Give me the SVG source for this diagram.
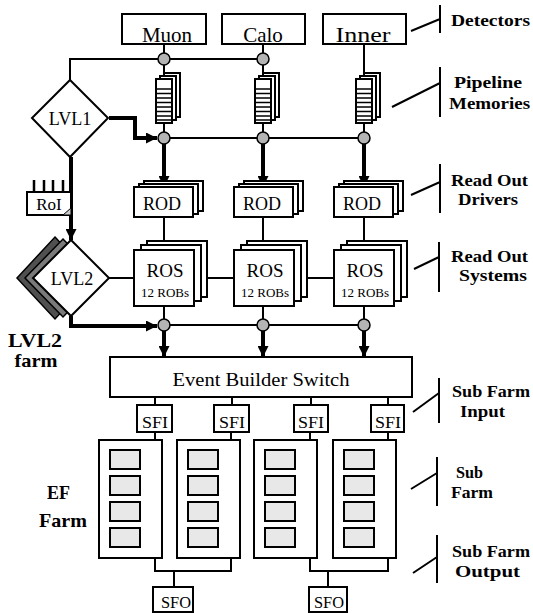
<svg xmlns="http://www.w3.org/2000/svg" xmlns:xlink="http://www.w3.org/1999/xlink" width="533" height="613" viewBox="0 0 533 613">
<style>
.box{fill:#fff;stroke:#000;stroke-width:2}
.t{font-family:"Liberation Serif","Times New Roman",serif;fill:#000}
.lbl{font-family:"Liberation Serif","Times New Roman",serif;font-weight:bold;font-size:16px;fill:#000}
.big{font-size:19px}
.thin{fill:none;stroke:#000;stroke-width:2}
.thick{fill:none;stroke:#000;stroke-width:4}
.dot{fill:#b4b4b4;stroke:#000;stroke-width:1.5}
.pc{fill:#e8e8e8;stroke:#000;stroke-width:2}
</style>
<defs>
<marker id="ah" viewBox="0 0 10 10" refX="10" refY="5" markerWidth="11" markerHeight="11" markerUnits="userSpaceOnUse" orient="auto">
<path d="M0,0 L10,5 L0,10 z" fill="#000"/>
</marker>
<g id="pipe">
<rect x="8" y="-6" width="16" height="44" class="box" stroke-width="1.5"/>
<rect x="4" y="-3" width="16" height="44" class="box" stroke-width="1.5"/>
<rect x="0" y="0" width="16" height="44" class="box"/>
<path d="M0,10H16M0,14.5H16M0,19H16M0,23.5H16M0,28H16M0,32.5H16M0,37H16M0,41H16" stroke="#000" stroke-width="1.6"/>
</g>
<g id="rod">
<rect x="10" y="-6" width="59" height="30" class="box" stroke-width="1.5"/>
<rect x="5" y="-3" width="59" height="30" class="box" stroke-width="1.5"/>
<rect x="0" y="0" width="59" height="30" class="box"/>
</g>
<g id="ros">
<rect x="13" y="-9" width="60" height="56" class="box" stroke-width="1.5"/>
<rect x="7" y="-5" width="60" height="56" class="box" stroke-width="1.5"/>
<rect x="0" y="0" width="60" height="56" class="box"/>
</g>
<g id="sub">
<rect x="0" y="0" width="63" height="118" class="box"/>
<rect x="11" y="10" width="30" height="19" class="pc"/>
<rect x="11" y="36" width="30" height="19" class="pc"/>
<rect x="11" y="62" width="30" height="19" class="pc"/>
<rect x="11" y="88" width="30" height="19" class="pc"/>
</g>
</defs>
<rect width="533" height="613" fill="#fff"/>

<g id="connectors">
<polyline class="thin" points="70,80 70,59 263,59"/>
<line class="thin" x1="164" y1="44" x2="164" y2="79"/>
<line class="thin" x1="263" y1="44" x2="263" y2="79"/>
<line class="thin" x1="364" y1="44" x2="364" y2="79"/>
<line class="thin" x1="164" y1="123" x2="164" y2="138"/>
<line class="thin" x1="263" y1="123" x2="263" y2="138"/>
<line class="thin" x1="364" y1="123" x2="364" y2="138"/>
<line class="thin" x1="164" y1="138" x2="364" y2="138"/>
<polyline class="thick" points="109,118 135,118 135,138 157,138" marker-end="url(#ah)"/>
<line class="thick" x1="164" y1="142" x2="164" y2="187" marker-end="url(#ah)"/>
<line class="thick" x1="263" y1="142" x2="263" y2="187" marker-end="url(#ah)"/>
<line class="thick" x1="364" y1="142" x2="364" y2="187" marker-end="url(#ah)"/>
<line class="thin" x1="164" y1="217" x2="164" y2="250"/>
<line class="thin" x1="263" y1="217" x2="263" y2="250"/>
<line class="thin" x1="364" y1="217" x2="364" y2="250"/>
<line class="thin" x1="109" y1="278" x2="134" y2="278"/>
<line class="thin" x1="207" y1="278" x2="234" y2="278"/>
<line class="thin" x1="307" y1="278" x2="334" y2="278"/>
<line class="thin" x1="164" y1="306" x2="164" y2="325"/>
<line class="thin" x1="263" y1="306" x2="263" y2="325"/>
<line class="thin" x1="364" y1="306" x2="364" y2="325"/>
<line class="thin" x1="164" y1="325" x2="364" y2="325"/>
<polyline class="thick" points="71,316 71,326 157,326" marker-end="url(#ah)"/>
<line class="thick" x1="164" y1="329" x2="164" y2="357" marker-end="url(#ah)"/>
<line class="thick" x1="263" y1="329" x2="263" y2="357" marker-end="url(#ah)"/>
<line class="thick" x1="364" y1="329" x2="364" y2="357" marker-end="url(#ah)"/>
<line class="thick" x1="71" y1="157" x2="71" y2="240" marker-end="url(#ah)"/>
<line class="thin" x1="155" y1="397" x2="155" y2="405"/>
<line class="thin" x1="232" y1="397" x2="232" y2="405"/>
<line class="thin" x1="311" y1="397" x2="311" y2="405"/>
<line class="thin" x1="388" y1="397" x2="388" y2="405"/>
<polyline class="thin" stroke-width="2.5" points="155,432 155,571 231,571 231,432"/>
<polyline class="thin" stroke-width="2.5" points="310,432 310,571 388,571 388,432"/>
<line class="thin" stroke-width="2.5" x1="174" y1="571" x2="174" y2="587"/>
<line class="thin" stroke-width="2.5" x1="328" y1="571" x2="328" y2="587"/>
<path class="thin" stroke-width="1.5" d="M140,460H155M140,486H155M140,512H155M140,538H155M218,460H231M218,486H231M218,512H231M218,538H231M295,460H310M295,486H310M295,512H310M295,538H310M373,460H388M373,486H388M373,512H388M373,538H388"/>
<circle class="dot" cx="164" cy="59" r="6"/>
<circle class="dot" cx="263" cy="59" r="6"/>
<circle class="dot" cx="164" cy="138" r="6"/>
<circle class="dot" cx="263" cy="138" r="6"/>
<circle class="dot" cx="364" cy="138" r="6"/>
<circle class="dot" cx="164" cy="325" r="6"/>
<circle class="dot" cx="263" cy="325" r="6"/>
<circle class="dot" cx="364" cy="325" r="6"/>
</g>

<g id="muon"><rect x="122" y="14" width="84" height="30" class="box"/><text class="t" x="167" y="42" font-size="21" text-anchor="middle">Muon</text></g>
<g id="calo"><rect x="222" y="14" width="83" height="30" class="box"/><text class="t" x="263" y="42" font-size="21" text-anchor="middle">Calo</text></g>
<g id="inner"><rect x="323" y="14" width="83" height="30" class="box"/><text class="t" x="363" y="42" font-size="21" text-anchor="middle" textLength="55" lengthAdjust="spacingAndGlyphs">Inner</text></g>

<g id="pipe-muon"><use xlink:href="#pipe" href="#pipe" x="156" y="79"/></g>
<g id="pipe-calo"><use xlink:href="#pipe" href="#pipe" x="255" y="79"/></g>
<g id="pipe-inner"><use xlink:href="#pipe" href="#pipe" x="356" y="79"/></g>

<g id="lvl1"><polygon points="70,80 108,118 70,157 32,118" class="box"/><text class="t" x="70" y="125" font-size="18" text-anchor="middle">LVL1</text></g>

<g id="roi">
<path d="M34,180V192M44,180V192M53,180V192M63,180V192" stroke="#000" stroke-width="2.5"/>
<rect x="27" y="192" width="44" height="23" class="box"/>
<polygon points="63,215 71,215 71,208" fill="#ccc" stroke="#000" stroke-width="1"/>
<text class="t" x="49" y="210" font-size="17" text-anchor="middle">RoI</text>
</g>

<g id="rod-muon"><use xlink:href="#rod" href="#rod" x="134" y="187"/><text class="t" x="162" y="210" font-size="18" text-anchor="middle">ROD</text></g>
<g id="rod-calo"><use xlink:href="#rod" href="#rod" x="234" y="187"/><text class="t" x="262" y="210" font-size="18" text-anchor="middle">ROD</text></g>
<g id="rod-inner"><use xlink:href="#rod" href="#rod" x="334" y="187"/><text class="t" x="362" y="210" font-size="18" text-anchor="middle">ROD</text></g>

<g id="ros-muon"><use xlink:href="#ros" href="#ros" x="134" y="250"/><text class="t" x="165" y="277" font-size="19" text-anchor="middle">ROS</text><text class="t" x="165" y="297" font-size="13" text-anchor="middle">12 ROBs</text></g>
<g id="ros-calo"><use xlink:href="#ros" href="#ros" x="234" y="250"/><text class="t" x="265" y="277" font-size="19" text-anchor="middle">ROS</text><text class="t" x="265" y="297" font-size="13" text-anchor="middle">12 ROBs</text></g>
<g id="ros-inner"><use xlink:href="#ros" href="#ros" x="334" y="250"/><text class="t" x="365" y="277" font-size="19" text-anchor="middle">ROS</text><text class="t" x="365" y="297" font-size="13" text-anchor="middle">12 ROBs</text></g>

<g id="lvl2">
<polygon points="55,237 93,278 55,319 17,278" fill="#505050" stroke="#000" stroke-width="1.5"/>
<polygon points="63,239 101,278 63,317 25,278" fill="#7a7a7a" stroke="#000" stroke-width="1.5"/>
<polygon points="71,240 109,278 71,316 33,278" class="box"/>
<text class="t" x="72" y="285" font-size="18" text-anchor="middle">LVL2</text>
</g>
<g id="lvl2-farm-label"><text class="lbl big" x="35" y="347" text-anchor="middle" textLength="54" lengthAdjust="spacingAndGlyphs">LVL2</text><text class="lbl big" x="36" y="367" text-anchor="middle" textLength="43" lengthAdjust="spacingAndGlyphs">farm</text></g>

<g id="eb"><rect x="110" y="357" width="302" height="40" class="box"/><text class="t" x="261" y="386" font-size="18" text-anchor="middle" textLength="177" lengthAdjust="spacingAndGlyphs">Event Builder Switch</text></g>

<g id="sfi1"><rect x="137" y="405" width="35" height="27" class="box"/><text class="t" x="155" y="428" font-size="17" text-anchor="middle" textLength="26" lengthAdjust="spacingAndGlyphs">SFI</text></g>
<g id="sfi2"><rect x="214" y="405" width="35" height="27" class="box"/><text class="t" x="232" y="428" font-size="17" text-anchor="middle" textLength="26" lengthAdjust="spacingAndGlyphs">SFI</text></g>
<g id="sfi3"><rect x="294" y="405" width="34" height="27" class="box"/><text class="t" x="311" y="428" font-size="17" text-anchor="middle" textLength="26" lengthAdjust="spacingAndGlyphs">SFI</text></g>
<g id="sfi4"><rect x="371" y="405" width="33" height="27" class="box"/><text class="t" x="388" y="428" font-size="17" text-anchor="middle" textLength="26" lengthAdjust="spacingAndGlyphs">SFI</text></g>

<g id="subfarm1"><use xlink:href="#sub" href="#sub" x="99" y="440"/></g>
<g id="subfarm2"><use xlink:href="#sub" href="#sub" x="177" y="440"/></g>
<g id="subfarm3"><use xlink:href="#sub" href="#sub" x="254" y="440"/></g>
<g id="subfarm4"><use xlink:href="#sub" href="#sub" x="333" y="440"/></g>

<g id="sfo1"><rect x="153" y="587" width="40" height="25" class="box"/><text class="t" x="176" y="608" font-size="17" text-anchor="middle" textLength="30" lengthAdjust="spacingAndGlyphs">SFO</text></g>
<g id="sfo2"><rect x="309" y="587" width="38" height="25" class="box"/><text class="t" x="329" y="608" font-size="17" text-anchor="middle" textLength="30" lengthAdjust="spacingAndGlyphs">SFO</text></g>

<g id="ef-farm-label"><text class="lbl big" x="47" y="499" textLength="23" lengthAdjust="spacingAndGlyphs">EF</text><text class="lbl big" x="39" y="527" textLength="48" lengthAdjust="spacingAndGlyphs">Farm</text></g>

<g id="side-labels">
<path class="thin" d="M440,5V33M411,31L440,19 M440,67V117M392,107L440,83 M440,164V213M411,195L440,182 M439,242V292M414,269L439,257 M439,378V423M413,412L439,393 M437,457V506M411,489L437,473 M437,535V583M413,573L437,557"/>
<text class="lbl" x="451" y="26" textLength="79" lengthAdjust="spacingAndGlyphs">Detectors</text>
<text class="lbl" x="454" y="88" textLength="68" lengthAdjust="spacingAndGlyphs">Pipeline</text>
<text class="lbl" x="449" y="109" textLength="81" lengthAdjust="spacingAndGlyphs">Memories</text>
<text class="lbl" x="451" y="186" textLength="77" lengthAdjust="spacingAndGlyphs">Read Out</text>
<text class="lbl" x="458" y="205" textLength="60" lengthAdjust="spacingAndGlyphs">Drivers</text>
<text class="lbl" x="451" y="262" textLength="77" lengthAdjust="spacingAndGlyphs">Read Out</text>
<text class="lbl" x="459" y="281" textLength="68" lengthAdjust="spacingAndGlyphs">Systems</text>
<text class="lbl" x="452" y="397" textLength="78" lengthAdjust="spacingAndGlyphs">Sub Farm</text>
<text class="lbl" x="460" y="417" textLength="45" lengthAdjust="spacingAndGlyphs">Input</text>
<text class="lbl" x="456" y="478" textLength="27" lengthAdjust="spacingAndGlyphs">Sub</text>
<text class="lbl" x="451" y="498" textLength="42" lengthAdjust="spacingAndGlyphs">Farm</text>
<text class="lbl" x="452" y="557" textLength="78" lengthAdjust="spacingAndGlyphs">Sub Farm</text>
<text class="lbl" x="455" y="577" textLength="65" lengthAdjust="spacingAndGlyphs">Output</text>
</g>
</svg>
